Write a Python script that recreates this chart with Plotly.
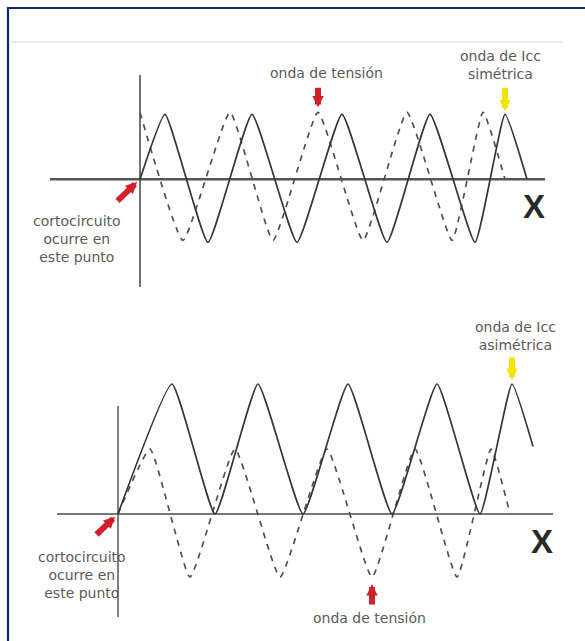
import plotly.graph_objects as go

W, H = 585, 641

# ---- Symmetric short circuit (upper diagram) ----
# time measured from the instant of the fault, current / voltage in per-unit
sym_t_current = [0, 25, 68, 112, 157, 202, 247, 290, 335, 365, 387]
sym_i_current = [0, 1.0, -0.97, 1.0, -0.97, 1.0, -0.97, 1.0, -0.97, 1.0, 0]
sym_t_voltage = [0, 43, 90, 133, 178, 223, 267, 312, 343, 365]
sym_v_voltage = [1.03, -0.94, 1.03, -0.94, 1.03, -0.94, 1.03, -0.94, 1.03, 0]

# ---- Asymmetric short circuit (lower diagram) ----
asym_t_current = [0, 54, 97, 140, 185, 230, 274, 319, 362, 394, 415]
asym_i_current = [0, 2.0, 0, 2.0, 0, 2.0, 0, 2.0, 0, 2.0, 1.04]
asym_t_voltage = [0, 32, 72, 117, 162, 209, 254, 297, 339, 373, 392]
asym_v_voltage = [0, 1.0, -0.97, 1.0, -0.97, 1.0, -0.97, 1.0, -0.97, 1.0, 0]

LABEL_TENSION = "onda de tensión"
LABEL_SYM = "onda de Icc<br>simétrica"
LABEL_ASYM = "onda de Icc<br>asimétrica"
LABEL_FAULT = "cortocircuito<br>ocurre en<br>este punto"

PX_PER_UNIT = 65.0
TOP_ORIGIN = (140.0, 179.3)
BOT_ORIGIN = (118.0, 514.0)

CURRENT_COLOR = "#363636"
VOLTAGE_COLOR = "#505050"
TEXT_COLOR = "#5a5a5a"
RED = "#d21f2c"
YELLOW = "#f2e400"
FONT = "DejaVu Sans"


def px(x):
    return x / W


def py(y):
    return 1 - y / H


def x_range(origin_x):
    return [-origin_x, W - origin_x]


def y_range(origin_y):
    return [-(H - origin_y) / PX_PER_UNIT, origin_y / PX_PER_UNIT]


fig = go.Figure()

spline = dict(shape="spline", smoothing=0.4)

fig.add_trace(go.Scatter(
    x=sym_t_voltage, y=sym_v_voltage, mode="lines", xaxis="x", yaxis="y",
    line=dict(color=VOLTAGE_COLOR, width=1.7, dash="6px,6px", **spline),
    hoverinfo="skip"))
fig.add_trace(go.Scatter(
    x=sym_t_current, y=sym_i_current, mode="lines", xaxis="x", yaxis="y",
    line=dict(color=CURRENT_COLOR, width=1.7, **spline),
    hoverinfo="skip"))
fig.add_trace(go.Scatter(
    x=asym_t_voltage, y=asym_v_voltage, mode="lines", xaxis="x2", yaxis="y2",
    line=dict(color=VOLTAGE_COLOR, width=1.7, dash="6px,6px", **spline),
    hoverinfo="skip"))
fig.add_trace(go.Scatter(
    x=asym_t_current, y=asym_i_current, mode="lines", xaxis="x2", yaxis="y2",
    line=dict(color=CURRENT_COLOR, width=1.7, **spline),
    hoverinfo="skip"))

hidden = dict(visible=False, showgrid=False, zeroline=False, fixedrange=True)

shapes = [
    # frame (top and left edges)
    dict(type="line", xref="paper", yref="paper", x0=px(8), x1=px(8), y0=py(7), y1=py(H + 5),
         line=dict(color="#0e2a6e", width=2.2)),
    dict(type="line", xref="paper", yref="paper", x0=px(7), x1=px(W + 5), y0=py(8), y1=py(8),
         line=dict(color="#0e2a6e", width=2.2)),
    # faint rule under the frame top
    dict(type="line", xref="paper", yref="paper", x0=px(11), x1=px(563), y0=py(42), y1=py(42),
         line=dict(color="#ececec", width=2)),
    # upper diagram axes
    dict(type="line", xref="x", yref="y", x0=-90, x1=405, y0=0, y1=0, layer="below",
         line=dict(color="#555555", width=2.4)),
    dict(type="line", xref="x", yref="y", x0=0, x1=0, y0=(179.3 - 75) / PX_PER_UNIT,
         y1=(179.3 - 287) / PX_PER_UNIT, layer="below",
         line=dict(color="#444444", width=1.5)),
    # lower diagram axes
    dict(type="line", xref="x2", yref="y2", x0=-61, x1=435, y0=0, y1=0, layer="below",
         line=dict(color="#4a4a4a", width=1.7)),
    dict(type="line", xref="x2", yref="y2", x0=0, x1=0, y0=(514 - 406) / PX_PER_UNIT,
         y1=(514 - 617) / PX_PER_UNIT, layer="below",
         line=dict(color="#4a4a4a", width=1.4)),
]


def label(text, x, y, size=14, color=TEXT_COLOR, family=FONT):
    return dict(text=text, xref="paper", yref="paper", x=px(x), y=py(y),
                xanchor="center", yanchor="middle", showarrow=False,
                font=dict(family=family, size=size, color=color))


def arrow(xref, yref, x, y, ax, ay, color, standoff):
    # block arrow: empty, tiny text box so the shaft starts right at the tail
    return dict(text="", xref=xref, yref=yref, x=x, y=y, ax=ax, ay=ay,
                font=dict(size=1), borderpad=0,
                showarrow=True, arrowhead=2, arrowsize=0.38, arrowwidth=6,
                arrowcolor=color, standoff=standoff)


annotations = [
    # upper diagram
    label(LABEL_TENSION, 326, 73),
    arrow("x", "y", sym_t_voltage[4], sym_v_voltage[4], 0, -25, RED, 5),
    label(LABEL_SYM, 500, 65),
    arrow("x", "y", sym_t_current[9], sym_i_current[9], 0, -27, YELLOW, 3),
    label(LABEL_FAULT, 77, 239),
    arrow("x", "y", 0, 0, -23, 22, RED, 4),
    label("<b>X</b>", 534, 207, size=33, color="#2a2a2a", family="Liberation Sans"),
    # lower diagram
    label(LABEL_ASYM, 515, 336),
    arrow("x2", "y2", asym_t_current[9], asym_i_current[9], 0, -27, YELLOW, 4),
    label(LABEL_FAULT, 82, 575),
    arrow("x2", "y2", 0, 0, -22, 21, RED, 4),
    arrow("x2", "y2", asym_t_voltage[6], asym_v_voltage[6], 0, 28, RED, 7),
    label(LABEL_TENSION, 369, 618),
    label("<b>X</b>", 542, 541, size=33, color="#2a2a2a", family="Liberation Sans"),
]

fig.update_layout(
    width=W, height=H,
    margin=dict(l=0, r=0, t=0, b=0),
    paper_bgcolor="white", plot_bgcolor="white",
    showlegend=False,
    xaxis=dict(domain=[0, 1], range=x_range(TOP_ORIGIN[0]), **hidden),
    yaxis=dict(domain=[0, 1], range=y_range(TOP_ORIGIN[1]), **hidden),
    xaxis2=dict(domain=[0, 1], range=x_range(BOT_ORIGIN[0]), overlaying="x", **hidden),
    yaxis2=dict(domain=[0, 1], range=y_range(BOT_ORIGIN[1]), overlaying="y", **hidden),
    shapes=shapes,
    annotations=annotations,
)

fig.write_html("out.html", config=dict(displayModeBar=False, staticPlot=True))
